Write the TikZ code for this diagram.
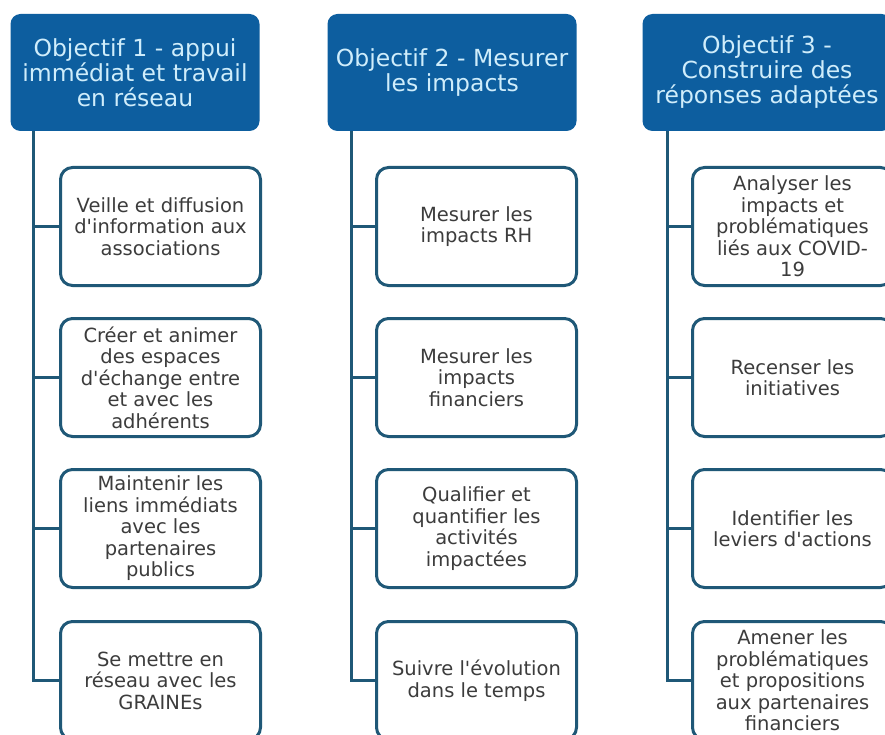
\documentclass[tikz,border=0pt]{standalone}
\usepackage{fontspec}
\newfontfamily\hf{DejaVu Sans}[Ligatures=TeXOff]
\definecolor{headblue}{HTML}{0D5E9F}
\definecolor{headtext}{HTML}{CFEDFB}
\definecolor{bord}{HTML}{1F5877}
\definecolor{itemtext}{HTML}{3C3C3C}
\tikzset{
  head/.style={fill=headblue, draw=none, rounded corners=10pt, minimum width=249pt, minimum height=117pt,
    text=headtext, font=\hf\fontsize{23.5}{25}\selectfont, align=center, inner sep=0pt},
  item/.style={draw=bord, line width=3pt, fill=white, rounded corners=12pt, minimum width=200pt, minimum height=118pt,
    text=itemtext, font=\hf\fontsize{19.5}{21.5}\selectfont, align=center, inner sep=0pt},
  conn/.style={draw=bord, line width=3pt}
}
\begin{document}
\begin{tikzpicture}[x=1pt,y=-1pt]
\useasboundingbox (0,0) rectangle (885,735);
\clip (0,0) rectangle (885,735);
\fill[white] (0,0) rectangle (885,735);
% headers
\node[head] (h1) at (135,72.5) {Objectif 1 - appui\\immédiat et travail\\en réseau};
\node[head] (h2) at (452,72.5) {Objectif 2 - Mesurer\\les impacts};
\node[head] (h3) at (767,72.5) {Objectif 3 -\\Construire des\\réponses adaptées};
% column 1
\node[item] (b11) at (160.5,226.5) {Veille et diffusion\\d'information  aux\\associations};
\node[item] (b12) at (160.5,377.5) {Créer et animer\\des espaces\\d'échange entre\\et avec les\\adhérents};
\node[item] (b13) at (160.5,528.5) {Maintenir les\\liens immédiats\\avec les\\partenaires\\publics};
\node[item] (b14) at (160.5,680.5) {Se mettre en\\réseau avec les\\GRAINEs};
% column 2
\node[item] (b21) at (476.5,226.5) {Mesurer les\\impacts RH};
\node[item] (b22) at (476.5,377.5) {Mesurer les\\impacts\\financiers};
\node[item] (b23) at (476.5,528.5) {Qualifier et\\quantifier les\\activités\\impactées};
\node[item] (b24) at (476.5,680.5) {Suivre l'évolution\\dans le temps};
% column 3
\node[item] (b31) at (792.5,226.5) {Analyser les\\impacts et\\problématiques\\liés aux COVID-\\19};
\node[item] (b32) at (792.5,377.5) {Recenser les\\initiatives};
\node[item] (b33) at (792.5,528.5) {Identifier les\\leviers d'actions};
\node[item] (b34) at (792.5,680.5) {Amener les\\problématiques\\et propositions\\aux partenaires\\financiers};
% spines
\path (h1.south) ++(-102,0) coordinate (s1);
\path (h2.south) ++(-101,0) coordinate (s2);
\path (h3.south) ++(-100,0) coordinate (s3);
\foreach \c in {1,2,3}{
  \draw[conn] (s\c) |- (b\c4.west);
  \foreach \r in {1,2,3}{
    \draw[conn] (b\c\r.west -| s\c) -- (b\c\r.west);
  }
}
\end{tikzpicture}
\end{document}
